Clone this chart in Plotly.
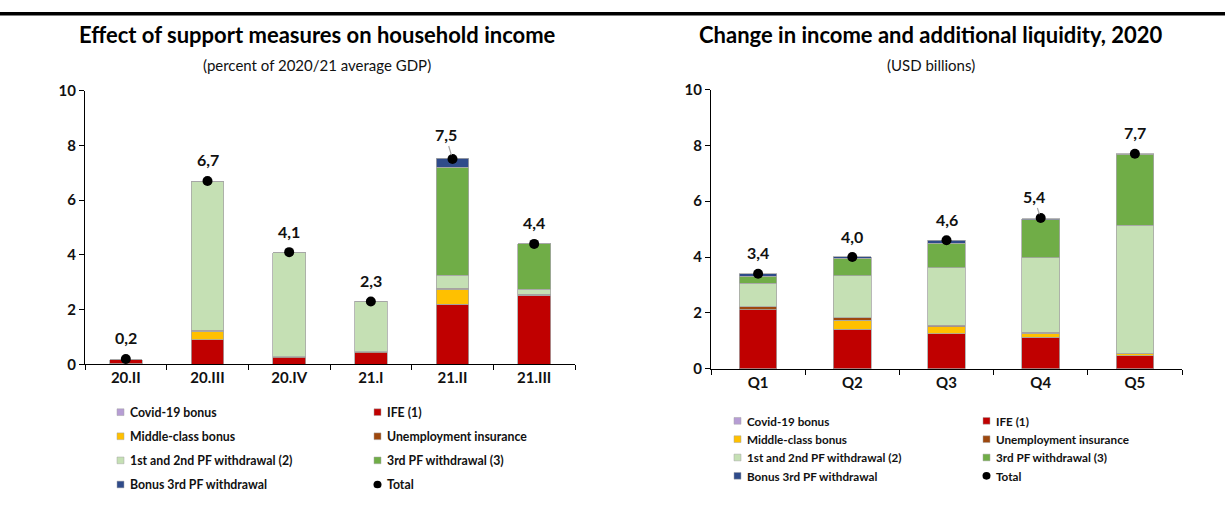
import plotly.graph_objects as go

# ---- data -------------------------------------------------------------
series_names = [
    "Covid-19 bonus", "IFE (1)", "Middle-class bonus", "Unemployment insurance",
    "1st and 2nd PF withdrawal (2)", "3rd PF withdrawal (3)", "Bonus 3rd PF withdrawal",
]
series_colors = ["#B69DD4", "#C00000", "#FFC000", "#9E480E", "#C5E0B4", "#70AD47", "#2F4B8A"]

# Left panel: percent of 2020/21 average GDP, by quarter
quarters = ["20.II", "20.III", "20.IV", "21.I", "21.II", "21.III"]
covid_q = [0.02, 0, 0, 0, 0, 0]
ife_q = [0.15, 0.90, 0.25, 0.42, 2.19, 2.52]
middle_q = [0, 0.32, 0, 0, 0.55, 0]
unemp_q = [0, 0.03, 0.03, 0.05, 0.04, 0.05]
pf12_q = [0, 5.42, 3.79, 1.83, 0.48, 0.18]
pf3_q = [0, 0, 0, 0, 3.94, 1.65]
bonus_q = [0, 0, 0, 0, 0.33, 0]
total_q = [0.2, 6.7, 4.1, 2.3, 7.5, 4.4]

# Right panel: USD billions, by income quintile
quintiles = ["Q1", "Q2", "Q3", "Q4", "Q5"]
covid_i = [0, 0, 0, 0, 0]
ife_i = [2.12, 1.42, 1.25, 1.12, 0.47]
middle_i = [0, 0.32, 0.25, 0.16, 0.08]
unemp_i = [0.10, 0.08, 0.06, 0.03, 0.01]
pf12_i = [0.85, 1.51, 2.06, 2.67, 4.58]
pf3_i = [0.25, 0.62, 0.88, 1.35, 2.54]
bonus_i = [0.09, 0.07, 0.10, 0.05, 0.02]
total_i = [3.4, 4.0, 4.6, 5.4, 7.7]

W, H = 1225, 506
FONT = "Lato"


def px_x(p):
    return p / W


def px_y(p):
    return 1 - p / H


fig = go.Figure()

panels = [
    ("x", "y", quarters, [covid_q, ife_q, middle_q, unemp_q, pf12_q, pf3_q, bonus_q], total_q),
    ("x2", "y2", quintiles, [covid_i, ife_i, middle_i, unemp_i, pf12_i, pf3_i, bonus_i], total_i),
]

# stacked components plus the total marker for each panel
for xa, ya, cats, stacks, totals in panels:
    for name, color, vals in zip(series_names, series_colors, stacks):
        fig.add_trace(go.Bar(
            x=cats, y=vals, name=name, xaxis=xa, yaxis=ya,
            marker=dict(color=color, line=dict(color="#A6A6A6", width=0.8)),
            showlegend=False, hoverinfo="skip",
        ))
    fig.add_trace(go.Scatter(
        x=cats, y=totals, mode="markers", name="Total", xaxis=xa, yaxis=ya,
        marker=dict(color="black", size=10), showlegend=False, hoverinfo="skip",
    ))

# value labels above the totals (decimal comma); two of them use a leader line
label_font = dict(family=FONT, size=16, color="#111111", weight="bold")
leader = {("x", 4): (-7, -24), ("x2", 3): (-7, -21)}
for xa, ya, cats, stacks, totals in panels:
    for i, (c, v) in enumerate(zip(cats, totals)):
        txt = f"{v:.1f}".replace(".", ",")
        if (xa, i) in leader:
            ax, ay = leader[(xa, i)]
            fig.add_annotation(x=c, y=v, xref=xa, yref=ya, text=txt, font=label_font,
                               showarrow=True, arrowhead=0, arrowcolor="#A6A6A6",
                               arrowwidth=1.2, ax=ax, ay=ay, standoff=4)
        else:
            fig.add_annotation(x=c, y=v, xref=xa, yref=ya, text=txt, font=label_font,
                               showarrow=False, yshift=21)

axis_common = dict(showline=True, linecolor="black", linewidth=1, ticks="outside",
                   ticklen=5, tickcolor="black", showgrid=False, zeroline=False,
                   tickfont=dict(family=FONT, size=15, color="#111111", weight="bold"))

fig.update_layout(
    width=W, height=H, margin=dict(l=0, r=0, t=0, b=0),
    paper_bgcolor="white", plot_bgcolor="white",
    barmode="stack", bargap=0.6, showlegend=False,
    xaxis=dict(domain=[px_x(85), px_x(575)], anchor="y", tickson="boundaries",
               range=[-0.5, 5.5], **axis_common),
    yaxis=dict(domain=[px_y(367.5), px_y(83.5)], anchor="x", range=[0, 10], dtick=2,
               **axis_common),
    xaxis2=dict(domain=[px_x(711), px_x(1182)], anchor="y2", tickson="boundaries",
                range=[-0.5, 4.5], **axis_common),
    yaxis2=dict(domain=[px_y(372), px_y(82.5)], anchor="x2", range=[0, 10], dtick=2,
                **axis_common),
)

# panel titles and subtitles
for cx, title, sub in [(317, "Effect of support measures on household income",
                        "(percent of 2020/21 average GDP)"),
                       (931, "Change in income and additional liquidity, 2020",
                        "(USD billions)")]:
    fig.add_annotation(x=px_x(cx), y=px_y(25), xref="paper", yref="paper", text=title,
                       showarrow=False, xanchor="center", yanchor="middle",
                       font=dict(family=FONT, size=22, color="black", weight="bold"))
    fig.add_annotation(x=px_x(cx), y=px_y(57), xref="paper", yref="paper", text=sub,
                       showarrow=False, xanchor="center", yanchor="middle",
                       font=dict(family=FONT, size=15, color="#111111"))

# top rule
fig.add_shape(type="line", xref="paper", yref="paper", x0=0, x1=1,
              y0=px_y(4), y1=px_y(4), line=dict(color="black", width=3.5))

# legends (two columns under each panel)
legend_entries = list(zip(series_names, series_colors)) + [("Total", None)]
legend_specs = [
    dict(cols=[120.5, 377.5], rows=[417, 442, 467, 492], size=12.3),
    dict(cols=[737.5, 986.5], rows=[426, 445, 464, 483], size=11.7),
]
for spec in legend_specs:
    for k, (name, color) in enumerate(legend_entries):
        cx = spec["cols"][k % 2]
        cy = spec["rows"][k // 2]
        if color is None:
            fig.add_shape(type="circle", xref="paper", yref="paper",
                          x0=px_x(cx - 4), x1=px_x(cx + 4), y0=px_y(cy + 4), y1=px_y(cy - 4),
                          fillcolor="black", line=dict(width=0))
        else:
            fig.add_shape(type="rect", xref="paper", yref="paper",
                          x0=px_x(cx - 3.5), x1=px_x(cx + 3.5), y0=px_y(cy + 3.5),
                          y1=px_y(cy - 3.5), fillcolor=color,
                          line=dict(color="#A6A6A6", width=0.5))
        fig.add_annotation(x=px_x(cx + 7), y=px_y(cy), xref="paper", yref="paper",
                           text=name, showarrow=False, xanchor="left", yanchor="middle",
                           font=dict(family=FONT, size=spec["size"], color="#111111",
                                     weight="bold"))

fig.write_html("out.html")
